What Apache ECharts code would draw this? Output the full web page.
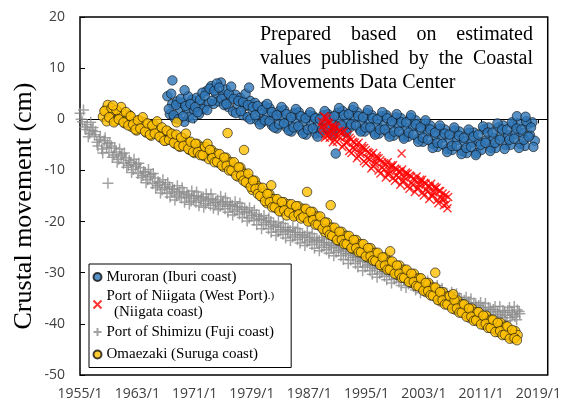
<!DOCTYPE html>
<html><head><meta charset="utf-8">
<script src="https://cdn.jsdelivr.net/npm/echarts@6/dist/echarts.min.js"></script>
<style>html,body{margin:0;padding:0;background:#fff}#c{width:564px;height:403px}</style>
</head><body><div id="c"></div>
<script>
// ---- axis ticks ----
const xTickYears = [1955, 1963, 1971, 1979, 1987, 1995, 2003, 2011, 2019];

// ---- series names ----
const nameMuroran = 'Muroran (Iburi coast)';
const nameNiigata = 'Port of Niigata (West Port)';
const nameShimizu = 'Port of Shimizu (Fuji coast)';
const nameOmaezaki = 'Omaezaki (Suruga coast)';

// ---- Muroran (two regularly sampled runs between first and last date) ----
const muroranSpanA = [1967.2, 2018.5];
const muroranValuesA = [
 4.5,1.0,3.0, 0.2,3.5,1.6, 3.2,-0.5,2.0, 0.5,3.8,1.8, 4.2,1.0,3.0,
 2.0,5.5,3.2, 6.5,3.0,5.0, 3.5,7.2,4.8, 5.8,2.4,4.2, 1.5,4.8,2.8,
 4.2,0.8,2.6, 0.4,3.6,1.8, 3.2,-0.2,1.4, -0.6,2.6,0.8, 2.2,-1.2,0.6,
 -1.8,1.6,0.2, 1.8,-1.6,-0.2, -2.4,1.2,-0.6, 1.4,-2.2,-0.4, -3.0,0.8,-1.2,
 0.6,-2.8,-1.0, -2.6,0.8,-1.2, 1.0,-2.4,-0.6, -2.2,1.3,-0.4, 1.6,-2.0,-0.2,
 -1.6,1.8,0.2, 1.4,-2.0,-0.4, -2.4,1.2,-0.6, 0.8,-2.6,-0.9, -2.8,0.6,-1.2,
 0.8,-2.8,-0.9, -3.2,0.4,-1.4, 0.2,-3.4,-1.6, -3.4,0.3,-1.4, -0.2,-3.8,-2.1,
 -4.4,-0.8,-2.6, -1.2,-4.8,-3.1, -5.4,-1.8,-3.6, -2.0,-5.8,-3.9, -6.0,-2.2,-4.1,
 -2.4,-6.2,-4.3, -6.6,-2.6,-4.6, -2.6,-6.6,-4.4, -6.0,-2.0,-4.1, -1.6,-5.6,-3.6,
 -5.6,-1.6,-3.4, -1.2,-5.0,-3.1, -5.0,-1.0,-2.9, -0.8,-4.8,-2.7, -5.2,-1.0,-3.1,
 -0.6,-4.2
];
const muroranSpanB = [1967.4, 2018.3];
const muroranValuesB = [
 2.0,5.0,0.8, 2.8,0.0,4.0, 0.6,2.6,4.5, 3.0,0.2,2.4, 1.4,3.8,5.2,
 4.6,1.8,6.0, 3.6,5.6,7.0, 6.2,4.0,2.8, 3.0,5.0,6.4, 4.0,1.2,3.6,
 1.6,3.4,5.0, 2.8,0.0,2.4, 0.8,2.6,-1.0, 1.8,-0.2,3.0, -0.4,1.4,-1.6,
 0.8,-1.0,2.4, -0.8,1.0,-2.2, 0.4,-1.6,2.0, -1.4,0.6,-2.8, 0.2,-2.0,1.4,
 -1.8,0.2,-3.4, 0.0,-2.0,1.6, -1.6,0.4,-3.0, 0.6,-1.4,2.2, -1.2,0.8,-2.6,
 1.0,-1.0,2.4, -1.2,0.6,-2.4, 0.4,-1.6,1.8, -1.6,0.2,-3.0, 0.0,-2.0,1.4,
 -2.0,0.2,-3.4, -0.4,-2.4,1.0, -2.4,-0.6,-3.8, -0.6,-2.6,0.8, -3.0,-1.0,-4.4,
 -1.6,-3.6,-0.2, -4.0,-2.0,-5.6, -2.6,-4.6,-1.2, -4.8,-2.8,-6.4, -3.0,-5.2,-1.6,
 -5.2,-3.2,-6.8, -3.6,-5.6,-2.0, -5.4,-3.4,-7.0, -3.0,-5.0,-1.4, -4.6,-2.6,-6.2,
 -2.6,-4.6,-0.8, -4.0,-2.0,-5.8, -2.0,-4.0,-0.6, -3.8,-1.8,-5.6, -2.0,-4.0,-0.4,
 -3.4,-1.6,-5.4
];
const muroranExtra = [[1967.9,7.6],[1969.6,5.7],[1978.6,6.2],[1990.7,-6.7],[2016.0,0.6],[2017.2,0.5]];

// ---- Niigata ----
const niigataSpanA = [1988.75, 2006.4];
const niigataValuesA = [
 -0.5,-2.0,0.3,
 -3.2,-0.8,-2.4,-1.2, -4.0,-1.6,-3.3,-2.2, -2.6,-5.0,-3.4,-4.4, -6.2,-4.0,-5.6,-4.6,
 -5.0,-7.2,-6.3,-5.6, -8.2,-6.0,-7.6,-6.6, -7.0,-9.2,-8.3,-7.6, -10.0,-8.0,-9.5,-8.6,
 -8.8,-10.8,-10.1,-9.4, -11.5,-9.6,-11.0,-10.2, -10.2,-12.2,-11.4,-10.8, -13.0,-11.0,-12.5,-11.6,
 -11.8,-13.6,-12.8,-12.3, -14.3,-12.4,-13.8,-13.0, -13.2,-15.0,-14.3,-13.6, -15.8,-14.0,-15.3,-14.5,
 -15.6,-16.6,-15.2
];
const niigataSpanB = [1988.85, 2006.3];
const niigataValuesB = [
 -1.6,0.6,-3.0,
 -0.6,-3.6,-1.6,-2.8, -1.4,-4.4,-2.4,-3.6, -5.4,-2.4,-4.6,-3.0, -3.6,-6.6,-4.4,-5.8,
 -7.6,-4.6,-6.8,-5.2, -5.6,-8.6,-6.4,-7.8, -9.6,-6.6,-8.8,-7.2, -7.6,-10.6,-8.4,-9.8,
 -11.4,-8.4,-10.6,-9.0, -9.0,-12.0,-9.8,-11.4, -12.8,-9.8,-12.0,-10.4, -10.6,-13.6,-11.2,-12.8,
 -14.2,-11.2,-13.4,-11.8, -11.8,-14.9,-12.6,-14.1, -15.6,-12.6,-14.8,-13.2, -13.4,-16.4,-14.0,-15.6,
 -16.8,-14.8,-17.4
];
const niigataExtra = [[1999.9,-6.7],[1988.9,-1.2],[1989.2,-3.6],[1989.5,0.2],[1989.9,-2.9],[1990.3,-4.5],[1990.7,-3.2]];

// ---- Shimizu ----
const shimizuSpanA = [1955.0, 2016.4];
const shimizuValuesA = [
 1.2,-0.5,-1.5, -1.0,-2.8,-2.2, -3.0,-4.5,-4.0, -5.8,-4.2,-5.5, -6.5,-5.2,-7.0,
 -6.4,-7.8,-7.2, -8.6,-7.5,-9.0, -8.4,-9.8,-9.2, -10.6,-9.5,-11.0, -10.4,-11.8,-11.2,
 -12.6,-11.5,-13.0, -12.4,-13.8,-13.4, -14.5,-13.2,-14.2, -13.8,-15.0,-14.6, -15.4,-14.2,-15.2,
 -14.8,-16.0,-15.5, -16.2,-15.0,-15.8, -15.2,-16.5,-16.0, -16.8,-15.6,-16.3, -15.8,-17.0,-16.6,
 -17.5,-16.2,-17.0, -16.8,-18.0,-17.6, -18.5,-17.2,-18.2, -18.0,-19.3,-18.8, -19.8,-18.6,-19.6,
 -19.4,-20.6,-20.2, -21.4,-20.0,-21.0, -20.8,-22.0,-21.6, -22.5,-21.2,-22.0, -21.8,-23.0,-22.6,
 -23.5,-22.2,-23.1, -22.8,-24.0,-23.6, -24.5,-23.2,-24.0, -23.7,-25.0,-24.6, -25.5,-24.2,-25.1,
 -24.8,-26.0,-25.6, -26.7,-25.4,-26.3, -26.2,-27.5,-27.0, -28.2,-26.9,-27.8, -27.6,-28.9,-28.5,
 -29.6,-28.3,-29.2, -29.0,-30.2,-29.8, -30.7,-29.4,-30.3, -30.0,-31.3,-30.9, -31.8,-30.5,-31.4,
 -31.0,-32.2,-31.8, -32.7,-31.4,-32.3, -32.0,-33.2,-32.8, -33.7,-32.4,-33.3, -33.1,-34.4,-34.0,
 -35.2,-33.9,-34.8, -34.4,-35.7,-35.3, -36.2,-34.9,-35.8, -35.4,-36.7,-36.3, -37.2,-35.9,-36.8,
 -36.4,-37.7,-37.3, -38.1,-36.8,-37.7, -37.2,-38.5,-38.1, -38.7,-37.4,-38.3, -37.4,-38.8,-38.2,
 -38.6,-37.3,-38.0
];
const shimizuSpanB = [1955.15, 2016.3];
const shimizuValuesB = [
 0.0,1.8,-2.0, -3.4,-0.6,-1.6, -2.4,-5.2,-3.4, -6.6,-3.6,-4.8, -4.6,-7.4,-5.6,
 -8.4,-5.8,-6.8, -6.6,-9.4,-8.0, -10.4,-7.8,-8.8, -8.6,-11.4,-10.2, -12.4,-9.8,-10.8,
 -10.6,-13.4,-12.2, -14.4,-11.8,-12.8, -12.4,-15.2,-13.6, -15.8,-13.0,-14.2, -13.4,-16.2,-14.6,
 -16.6,-14.0,-15.0, -14.2,-16.9,-15.4, -17.2,-14.6,-15.6, -14.6,-17.4,-16.2, -17.7,-15.1,-16.1,
 -15.4,-18.2,-16.6, -18.7,-16.1,-17.1, -16.4,-19.2,-17.6, -19.9,-17.3,-18.3, -17.8,-20.6,-19.0,
 -21.4,-18.8,-19.8, -19.3,-22.1,-20.5, -22.7,-20.1,-21.1, -20.4,-23.2,-21.6, -23.7,-21.1,-22.1,
 -21.4,-24.2,-22.6, -24.7,-22.1,-23.1, -22.4,-25.2,-23.6, -25.7,-23.1,-24.1, -23.4,-26.2,-24.6,
 -26.7,-24.1,-25.1, -24.6,-27.4,-25.8, -28.2,-25.6,-26.6, -26.1,-28.9,-27.3, -29.6,-27.0,-28.0,
 -27.5,-30.3,-28.7, -30.9,-28.3,-29.3, -28.6,-31.4,-29.8, -32.0,-29.4,-30.4, -29.7,-32.5,-30.9,
 -32.9,-30.3,-31.3, -30.6,-33.4,-31.8, -33.9,-31.3,-32.3, -31.6,-34.4,-32.8, -35.1,-32.5,-33.5,
 -33.1,-35.9,-34.3, -36.4,-33.8,-34.8, -34.1,-36.9,-35.3, -37.4,-34.8,-35.8, -35.1,-37.9,-36.3,
 -38.4,-35.8,-36.8, -36.0,-38.8,-37.2, -39.2,-36.6,-37.6, -36.6,-39.4,-37.8, -39.4,-36.8,-37.8,
 -36.6,-39.2,-37.6
];
const shimizuExtra = [[1958.9,-12.5]];

// ---- Omaezaki ----
const omaezakiSpanA = [1958.2, 2016.1];
const omaezakiValuesA = [
 0.5,1.8,
 2.8,0.2,1.5, -0.3,1.6,0.4, 1.2,-0.8,0.0, 0.8,-1.5,-0.5, -2.2,-0.2,-1.4,
 -0.6,-2.6,-1.8, -3.2,-1.0,-2.4, -1.8,-3.6,-2.8, -4.2,-2.4,-3.4, -3.0,-4.8,-4.0,
 -5.4,-3.6,-4.6, -4.2,-6.0,-5.2, -6.6,-4.8,-5.8, -5.4,-7.2,-6.4, -7.8,-6.0,-7.0,
 -6.7,-8.5,-7.7, -9.3,-7.5,-8.5, -8.4,-10.2,-9.4, -11.2,-9.4,-10.4, -10.7,-12.5,-11.7,
 -13.8,-12.0,-13.0, -13.4,-15.2,-14.4, -16.4,-14.6,-15.6, -15.6,-17.4,-16.6, -18.0,-16.2,-17.2,
 -16.6,-18.4,-17.6, -18.8,-17.0,-18.0, -17.5,-19.3,-18.5, -19.9,-18.1,-19.1, -19.0,-20.8,-20.0,
 -22.0,-20.2,-21.2, -21.2,-23.0,-22.2, -23.8,-22.0,-23.0, -22.8,-24.6,-23.8, -25.4,-23.6,-24.6,
 -24.4,-26.2,-25.4, -27.0,-25.2,-26.2, -26.1,-27.9,-27.1, -28.8,-27.0,-28.0, -27.8,-29.6,-28.8,
 -30.4,-28.6,-29.6, -29.4,-31.2,-30.4, -32.0,-30.2,-31.2, -31.1,-32.9,-32.1, -33.8,-32.0,-33.0,
 -32.9,-34.7,-33.9, -35.6,-33.8,-34.8, -34.6,-36.4,-35.6, -37.2,-35.4,-36.4, -36.2,-38.0,-37.2,
 -38.8,-37.0,-38.0, -37.7,-39.5,-38.7, -40.2,-38.4,-39.4, -39.2,-41.0,-40.2, -41.6,-39.8,-40.8,
 -40.5,-42.3,-41.5, -42.8,-41.4,-42.2
];
const omaezakiSpanB = [1958.4, 2016.0];
const omaezakiValuesB = [
 1.6,-0.4,
 0.4,2.2,-0.6, 1.8,0.0,2.4, -0.6,1.4,-1.2, 0.6,-1.0,-2.0, -0.2,-1.8,0.4,
 -2.4,-0.8,-3.0, -1.2,-2.8,-0.4, -3.4,-1.6,-4.2, -2.2,-4.0,-2.8, -4.6,-3.0,-5.2,
 -3.6,-5.2,-2.8, -5.8,-4.4,-6.4, -4.8,-6.4,-7.0, -7.0,-5.4,-4.8, -6.0,-7.6,-8.4,
 -8.3,-6.8,-9.0, -7.5,-9.1,-10.0, -10.0,-8.4,-11.0, -9.4,-11.0,-12.0, -12.3,-10.6,-13.2,
 -12.0,-13.6,-14.6, -15.0,-13.4,-16.0, -14.6,-16.2,-17.2, -17.2,-15.6,-18.0, -16.2,-17.8,-18.8,
 -18.2,-16.6,-19.0, -17.0,-18.6,-19.4, -19.1,-17.5,-20.0, -18.1,-19.7,-20.6, -20.6,-19.0,-21.4,
 -20.2,-21.8,-22.6, -22.8,-21.2,-23.6, -22.0,-23.6,-24.4, -24.4,-22.8,-25.2, -23.6,-25.2,-26.0,
 -26.0,-24.4,-26.8, -25.2,-26.8,-27.6, -27.7,-26.1,-28.5, -27.0,-28.6,-29.4, -29.4,-27.8,-30.2,
 -28.6,-30.2,-31.0, -31.0,-29.4,-31.8, -30.2,-31.8,-32.6, -32.7,-31.1,-33.5, -32.0,-33.6,-34.4,
 -34.5,-32.9,-35.3, -33.8,-35.4,-36.2, -36.2,-34.6,-37.0, -35.4,-37.0,-37.8, -37.8,-36.2,-38.6,
 -37.0,-38.6,-39.4, -39.3,-37.7,-40.1, -38.4,-40.0,-40.8, -40.8,-39.2,-41.6, -39.8,-41.4,-42.2,
 -42.1,-40.5,-42.9, -41.2,-42.8,-43.2
];
const omaezakiExtra = [[1959.6,2.7],[1968.5,-0.6],[1975.6,-2.7],[1977.9,-6.0],[1981.7,-12.9],[1986.7,-14.2],[1990.0,-16.8],[1998.3,-25.8],[2004.6,-30.0],[2007.1,-34.2]];

// ---- annotation text ----
const noteLines = ['Prepared based on estimated', 'values published by the Coastal', 'Movements Data Center'];
const yTitle = 'Crustal movement (cm)';

function pts(span, values) {
  const n = values.length, out = [];
  for (let i = 0; i < n; i++) out.push([span[0] + (span[1] - span[0]) * i / (n - 1), values[i]]);
  return out;
}

const serif = '"Liberation Serif", "Times New Roman", serif';
const sans = '"Open Sans", "DejaVu Sans", sans-serif';

// justified note text
const noteLeft = 260, noteRight = 533, noteY0 = 35, noteDy = 24, noteSize = 20;
const mctx = document.createElement('canvas').getContext('2d');
mctx.font = noteSize + 'px ' + serif;
const graphics = [];
noteLines.forEach((line, li) => {
  const words = line.split(' ');
  const widths = words.map(w => mctx.measureText(w).width);
  const total = widths.reduce((a, b) => a + b, 0);
  const justify = li < noteLines.length - 1;
  const gap = justify ? (noteRight - noteLeft - total) / (words.length - 1) : mctx.measureText(' ').width;
  let x = noteLeft;
  words.forEach((w, wi) => {
    graphics.push({type: 'text', x: x, y: noteY0 + li * noteDy, z: 10,
      style: {text: w, fontSize: noteSize, fontFamily: serif, fill: '#000', align: 'left', verticalAlign: 'middle'}});
    x += widths[wi] + gap;
  });
});
graphics.push({type: 'text', x: 24, y: 206, rotation: Math.PI / 2, z: 10,
  style: {text: yTitle, fontSize: 26, fontFamily: serif, fill: '#000', align: 'center', verticalAlign: 'middle'}});

const xPath = 'path://M0,0L10,10M10,0L0,10';
const plusPath = 'path://M5,0L5,10M0,5L10,5';
const xMin = 1955, xMax = 2020.3;

const chart = echarts.init(document.getElementById('c'), null, {renderer: 'canvas'});
chart.setOption({
  animation: false,
  backgroundColor: '#fff',
  grid: {left: 80, right: 14, top: 17, bottom: 28, show: true, borderColor: '#000', borderWidth: 1.5, backgroundColor: 'transparent'},
  xAxis: [
    {type: 'value', min: xMin, max: xMax, position: 'bottom',
     axisLine: {show: false, onZero: false}, splitLine: {show: false}, axisTick: {show: false},
     axisLabel: {customValues: xTickYears, formatter: v => Math.round(v) + '/1', fontFamily: sans, fontSize: 14, color: '#404040', margin: 12}},
    {type: 'value', min: xMin, max: xMax, position: 'bottom',
     axisLine: {show: true, onZero: true, lineStyle: {color: '#000', width: 1}},
     axisTick: {show: true, customValues: xTickYears, inside: false, length: 4, lineStyle: {color: '#000'}},
     axisLabel: {show: false}, splitLine: {show: false}}
  ],
  yAxis: {type: 'value', min: -50, max: 20, interval: 10,
    axisLine: {show: false}, splitLine: {show: false},
    axisTick: {show: true, inside: true, length: 5, lineStyle: {color: '#000'}},
    axisLabel: {fontFamily: sans, fontSize: 14, color: '#404040', margin: 15}},
  legend: {
    orient: 'vertical', left: 89, top: 264, itemGap: 3.5, itemWidth: 8, itemHeight: 8,
    padding: [5, 17, 2, 2], backgroundColor: '#fff', borderColor: '#000', borderWidth: 1,
    textStyle: {fontFamily: serif, fontSize: 15, color: '#000', lineHeight: 16,
      rich: {s: {fontFamily: serif, fontSize: 11, color: '#000'}}},
    formatter: name => name === nameNiigata ? nameNiigata + '{s|.)}\n  (Niigata coast)' : name,
    data: [nameMuroran, nameNiigata, nameShimizu, {name: nameOmaezaki, textStyle: {lineHeight: 22}}]
  },
  graphic: graphics,
  series: [
    {name: nameMuroran, type: 'scatter', data: pts(muroranSpanA, muroranValuesA).concat(pts(muroranSpanB, muroranValuesB), muroranExtra),
     symbol: 'circle', symbolSize: 9.5, itemStyle: {color: '#2E75B6', borderColor: '#111', borderWidth: 0.8}},
    {name: nameNiigata, type: 'scatter', data: pts(niigataSpanA, niigataValuesA).concat(pts(niigataSpanB, niigataValuesB), niigataExtra),
     symbol: xPath, symbolSize: 8, itemStyle: {color: 'none', borderColor: '#FF0000', borderWidth: 1.4}},
    {name: nameShimizu, type: 'scatter', data: pts(shimizuSpanA, shimizuValuesA).concat(pts(shimizuSpanB, shimizuValuesB), shimizuExtra),
     symbol: plusPath, symbolSize: 11, itemStyle: {color: 'none', borderColor: '#8c8c8c', borderWidth: 1.5}},
    {name: nameOmaezaki, type: 'scatter', data: pts(omaezakiSpanA, omaezakiValuesA).concat(pts(omaezakiSpanB, omaezakiValuesB), omaezakiExtra),
     symbol: 'circle', symbolSize: 9.5, itemStyle: {color: '#FFC000', borderColor: '#111', borderWidth: 0.8}}
  ]
});
</script></body></html>
